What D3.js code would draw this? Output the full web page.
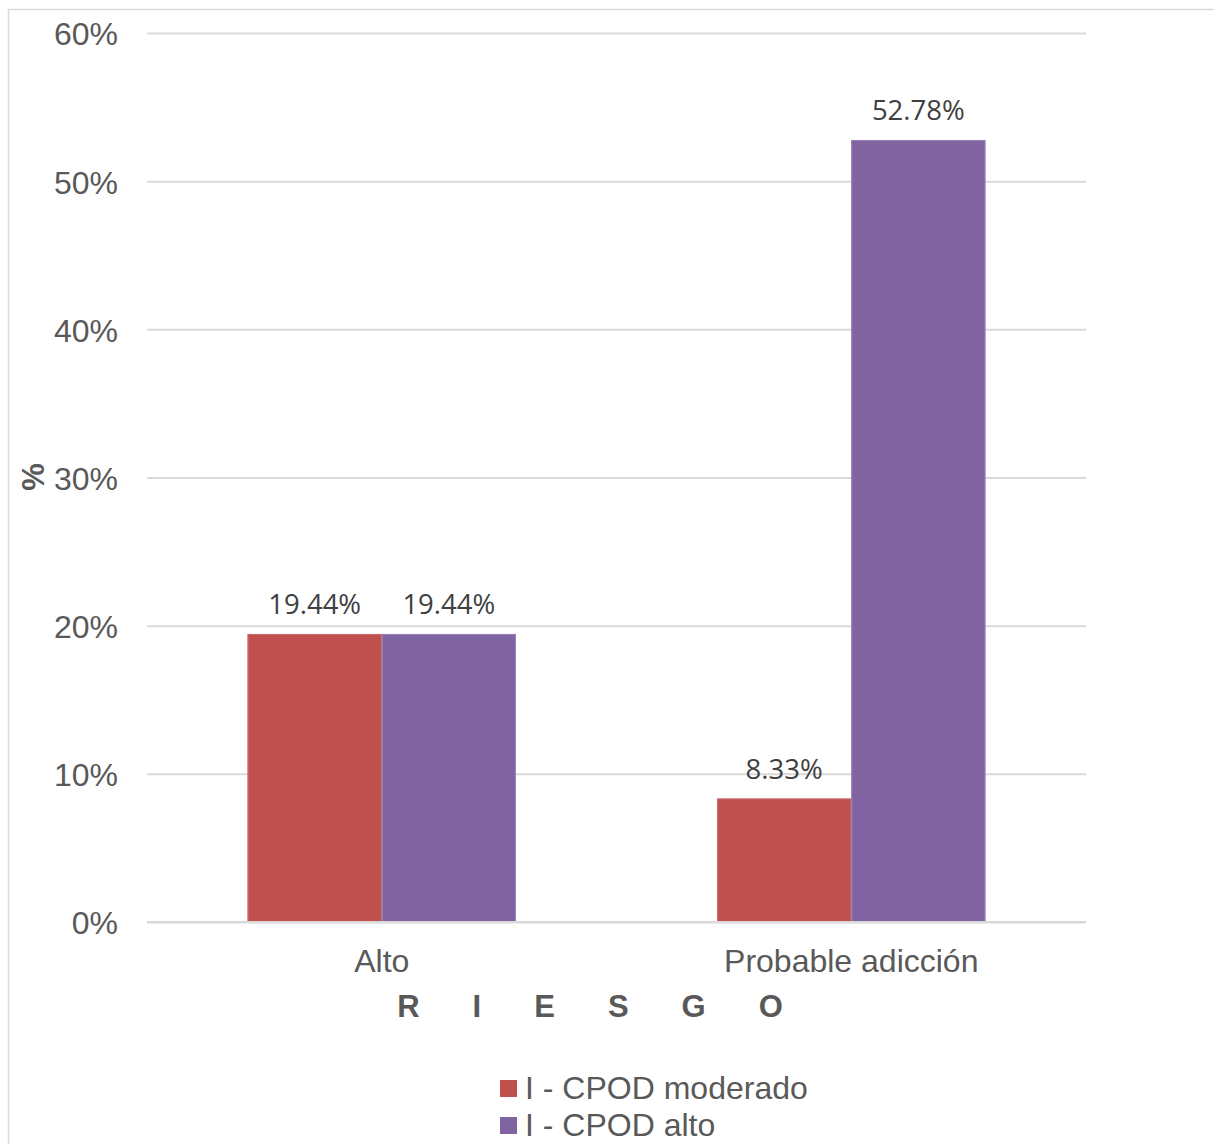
<!DOCTYPE html>
<html>
<head>
<meta charset="utf-8">
<script src="https://cdn.jsdelivr.net/npm/d3@7"></script>
<style>
  html, body { margin: 0; padding: 0; background: #fff; }
  svg { display: block; }
</style>
</head>
<body>
<svg id="chart" width="1214" height="1144"></svg>
<script>
// Risk level categories on the x axis
const categories = ["Alto", "Probable adicción"];
// Series names (legend order)
const seriesNames = ["I - CPOD moderado", "I - CPOD alto"];
// Percent values per series, one per category
const moderado = [19.44, 8.33];
const alto = [19.44, 52.78];
const seriesValues = [moderado, alto];
// Y axis ticks (percent)
const yTicks = [0, 10, 20, 30, 40, 50, 60];
const colors = ["#C0504D", "#8064A2"];

const svg = d3.select("#chart");
const W = 1214, H = 1144;
const plot = { left: 147, right: 1086, top: 33, bottom: 922 };
const textGrey = "#595959";
const fontMain = "'Liberation Sans', Arial, sans-serif";

// Outer chart frame (extends past the window on the right and bottom)
svg.append("rect")
  .attr("x", 8.5).attr("y", 9.5)
  .attr("width", W + 20).attr("height", H + 20)
  .attr("fill", "none").attr("stroke", "#d9d9d9").attr("stroke-width", 1.5);

const y = d3.scaleLinear().domain([0, 60]).range([plot.bottom, plot.top]);
const x0 = d3.scaleBand().domain(categories).range([plot.left, plot.right]).padding(0);
// Gap between groups is 150% of a bar width
const barW = x0.bandwidth() / 3.5;
const x1 = d3.scaleBand().domain(seriesNames)
  .range([0.75 * barW, 2.75 * barW]).padding(0);

// Horizontal gridlines and y tick labels
const yAxis = d3.axisLeft(y).tickValues(yTicks)
  .tickSize(-(plot.right - plot.left))
  .tickPadding(29)
  .tickFormat(d => d + "%");
const gy = svg.append("g")
  .attr("transform", `translate(${plot.left},0)`)
  .call(yAxis);
gy.select(".domain").remove();
gy.selectAll(".tick line").attr("stroke", "#d9d9d9").attr("stroke-width", 2);
gy.selectAll(".tick text")
  .attr("fill", textGrey)
  .attr("dy", "0.37em")
  .style("font-family", fontMain)
  .style("font-size", "32px");

// Bars
const groups = svg.append("g").selectAll("g")
  .data(categories)
  .join("g")
  .attr("transform", d => `translate(${x0(d)},0)`);

const barData = (c, i) => seriesNames.map((s, j) => ({ s, j, v: seriesValues[j][i] }));

groups.selectAll("rect.bar")
  .data(barData)
  .join("rect")
  .attr("class", "bar")
  .attr("x", d => x1(d.s))
  .attr("y", d => y(d.v))
  .attr("width", x1.bandwidth())
  .attr("height", d => y(0) - y(d.v))
  .attr("fill", d => colors[d.j]);

// Thin outline on the bars
groups.selectAll("rect.edge")
  .data(barData)
  .join("rect")
  .attr("class", "edge")
  .attr("x", d => x1(d.s) + 0.5)
  .attr("y", d => y(d.v) + 0.5)
  .attr("width", x1.bandwidth() - 1)
  .attr("height", d => y(0) - y(d.v) - 1)
  .attr("fill", "none")
  .attr("stroke", d => d.j === 0 ? "#c96b68" : "#9a84b8")
  .attr("stroke-width", 1);

// Value labels
groups.selectAll("text.val")
  .data(barData)
  .join("text")
  .attr("class", "val")
  .attr("x", d => x1(d.s) + x1.bandwidth() / 2)
  .attr("y", d => y(d.v) - 20)
  .attr("text-anchor", "middle")
  .attr("fill", "#404040")
  .style("font-family", "'Open Sans', 'Noto Sans', sans-serif")
  .style("font-size", "27.5px")
  .text(d => d.v.toFixed(2) + "%");

// X axis baseline
svg.append("line")
  .attr("x1", plot.left).attr("x2", plot.right)
  .attr("y1", plot.bottom).attr("y2", plot.bottom)
  .attr("stroke", "#d9d9d9").attr("stroke-width", 2);

// Category labels
const xAxis = d3.axisBottom(x0).tickSize(0).tickPadding(27);
const gx = svg.append("g")
  .attr("transform", `translate(0,${plot.bottom})`)
  .call(xAxis);
gx.select(".domain").remove();
gx.selectAll(".tick text")
  .attr("fill", textGrey)
  .style("font-family", fontMain)
  .style("font-size", "32px");

// X axis title
svg.append("text")
  .attr("x", (plot.left + plot.right) / 2)
  .attr("y", 1017)
  .attr("text-anchor", "middle")
  .attr("fill", textGrey)
  .style("font-family", fontMain)
  .style("font-size", "31px")
  .style("font-weight", "bold")
  .style("letter-spacing", "53px")
  .text("RIESGO");

// Y axis title
svg.append("text")
  .attr("transform", "translate(44,477) rotate(-90)")
  .attr("text-anchor", "middle")
  .attr("fill", textGrey)
  .style("font-family", fontMain)
  .style("font-size", "31px")
  .style("font-weight", "bold")
  .text("%");

// Legend
const legend = svg.append("g").selectAll("g")
  .data(seriesNames)
  .join("g")
  .attr("transform", (d, i) => `translate(500,${1099 + i * 37})`);
legend.append("rect")
  .attr("x", 0).attr("y", -19)
  .attr("width", 17).attr("height", 17)
  .attr("fill", (d, i) => colors[i]);
legend.append("text")
  .attr("x", 25).attr("y", 0)
  .attr("fill", textGrey)
  .style("font-family", fontMain)
  .style("font-size", "32px")
  .text(d => d);
</script>
</body>
</html>
